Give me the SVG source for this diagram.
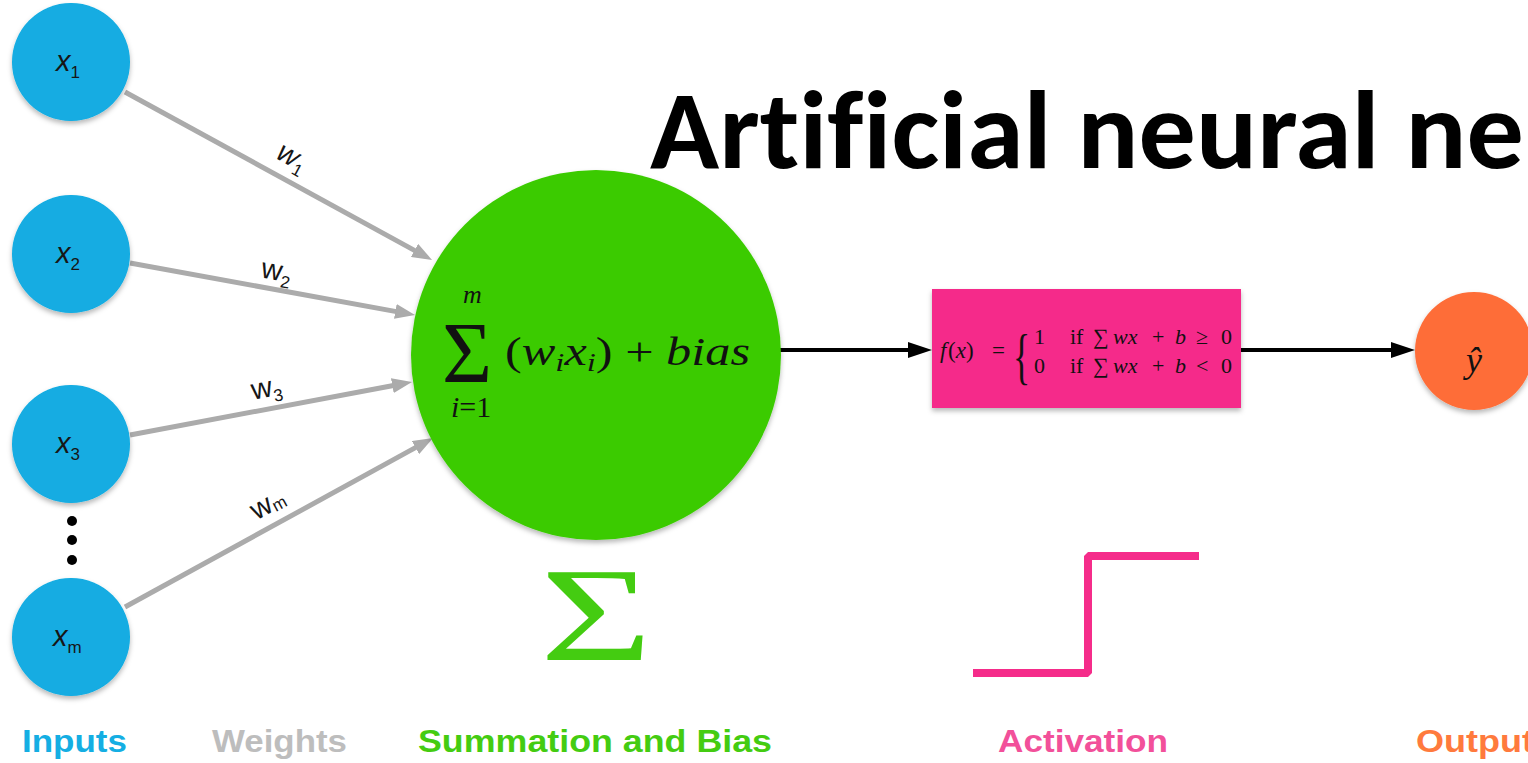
<svg xmlns="http://www.w3.org/2000/svg" width="1528" height="763" viewBox="0 0 1528 763">
<defs>
<style>
.in{fill:#12ACE2}
.xl{font-family:"Liberation Sans",Arial,sans-serif;fill:#161616;font-style:italic;font-size:29px}
.sub{font-style:normal;font-size:17px}
.wt{font-family:"Liberation Sans",Arial,sans-serif;fill:#161616;font-size:29px}
.math{font-family:"Liberation Serif","Times New Roman",serif;fill:#111}
.it{font-style:italic}
.wl{stroke:#ABABAB;stroke-width:5;fill:none}
.bl{stroke:#000;stroke-width:4;fill:none}
.cap{font-family:"Liberation Sans",Arial,sans-serif;font-weight:bold;font-size:31px}
</style>
<marker id="ag" markerWidth="4" markerHeight="3" refX="0.5" refY="1.5" orient="auto" markerUnits="strokeWidth"><path d="M0,0 L4,1.5 L0,3 z" fill="#ABABAB"/></marker>
<marker id="ab" markerWidth="6" markerHeight="4" refX="0.5" refY="2" orient="auto" markerUnits="strokeWidth"><path d="M0,0 L6,2 L0,4 z" fill="#000"/></marker>
<filter id="sh" x="-20%" y="-20%" width="140%" height="150%"><feDropShadow dx="0" dy="3" stdDeviation="2.5" flood-color="#000" flood-opacity="0.28"/></filter>
</defs>
<rect width="1528" height="763" fill="#fff"/>

<text id="title" x="650" y="168" font-family="Carlito,Lato,'Liberation Sans',Arial,sans-serif" font-weight="bold" font-size="112" fill="#000" style="font-variant-ligatures:none" textLength="874" lengthAdjust="spacingAndGlyphs">Artificial neural ne</text>

<g id="connectors">
<line class="wl" x1="125" y1="92" x2="416.7" y2="251.6" marker-end="url(#ag)"/>
<line class="wl" x1="130" y1="263" x2="397.8" y2="311.9" marker-end="url(#ag)"/>
<line class="wl" x1="130" y1="435" x2="394.8" y2="385.2" marker-end="url(#ag)"/>
<line class="wl" x1="125" y1="607" x2="417.7" y2="446.4" marker-end="url(#ag)"/>
<line class="bl" x1="780" y1="350" x2="910" y2="350" marker-end="url(#ab)"/>
<line class="bl" x1="1241" y1="350" x2="1393" y2="350" marker-end="url(#ab)"/>
<text class="wt it" transform="translate(288,165) rotate(28.7)" text-anchor="middle">w<tspan class="sub" dy="6">1</tspan></text>
<text class="wt" transform="translate(275,280) rotate(10.3)" text-anchor="middle">w<tspan class="sub" dy="6">2</tspan></text>
<text class="wt" transform="translate(268,397) rotate(-10.6)" text-anchor="middle">w<tspan class="sub" dy="6">3</tspan></text>
<text class="wt" transform="translate(272,512) rotate(-28.8)" text-anchor="middle">w<tspan class="sub" dy="2">m</tspan></text>
</g>

<g id="x1"><circle class="in" cx="71" cy="62" r="59" filter="url(#sh)"/><text class="xl" x="56" y="71">x<tspan class="sub" dy="7">1</tspan></text></g>
<g id="x2"><circle class="in" cx="71" cy="254" r="59" filter="url(#sh)"/><text class="xl" x="56" y="263">x<tspan class="sub" dy="7">2</tspan></text></g>
<g id="x3"><circle class="in" cx="71" cy="444" r="59" filter="url(#sh)"/><text class="xl" x="56" y="453">x<tspan class="sub" dy="7">3</tspan></text></g>
<g id="dots"><circle cx="72" cy="521" r="5" fill="#000"/><circle cx="72" cy="540" r="5" fill="#000"/><circle cx="72" cy="560" r="5" fill="#000"/></g>
<g id="xm"><circle class="in" cx="71" cy="637" r="59" filter="url(#sh)"/><text class="xl" x="53" y="646">x<tspan class="sub" dy="7">m</tspan></text></g>

<g id="sum">
<circle cx="596" cy="355" r="185" fill="#3BCB06" filter="url(#sh)"/>
<text class="math"><tspan x="442" y="382" font-size="86">Σ</tspan><tspan class="it" x="463" y="303" font-size="26">m</tspan><tspan class="it" x="451" y="417" font-size="30">i</tspan><tspan font-size="30">=1</tspan></text>
<text class="math" x="505" y="365" font-size="40" textLength="245" lengthAdjust="spacingAndGlyphs">(<tspan class="it">w</tspan><tspan class="it" font-size="26" dy="6">i</tspan><tspan class="it" dy="-6">x</tspan><tspan class="it" font-size="26" dy="6">i</tspan><tspan dy="-6">) + </tspan><tspan class="it">bias</tspan></text>
</g>

<g id="activation">
<rect x="932" y="289" width="309" height="119" fill="#F52C8A" filter="url(#sh)"/>
<text class="math" font-size="23"><tspan class="it" x="940" y="358">f</tspan><tspan x="948">(</tspan><tspan class="it">x</tspan><tspan>)</tspan><tspan x="992">=</tspan></text>
<text class="math" font-size="50" transform="translate(1013,377) scale(0.72,1.22)">{</text>
<text class="math" font-size="22"><tspan x="1034" y="344">1</tspan><tspan x="1070">if</tspan><tspan x="1093">∑</tspan><tspan class="it" x="1113">wx</tspan><tspan x="1152">+</tspan><tspan class="it" x="1175">b</tspan><tspan x="1196">≥</tspan><tspan x="1221">0</tspan></text>
<text class="math" font-size="22"><tspan x="1034" y="373">0</tspan><tspan x="1070">if</tspan><tspan x="1093">∑</tspan><tspan class="it" x="1113">wx</tspan><tspan x="1152">+</tspan><tspan class="it" x="1175">b</tspan><tspan x="1196">&lt;</tspan><tspan x="1221">0</tspan></text>
</g>

<g id="output">
<circle cx="1474" cy="351" r="59" fill="#FE6D37" filter="url(#sh)"/>
<text class="math it" x="1474" y="372" font-size="36" text-anchor="middle">ŷ</text>
</g>

<g id="icons">
<text class="math" font-size="133" transform="translate(540,660) scale(1.45,1)" style="fill:#44CC11">Σ</text>
<polyline points="973,673 1088,673 1088,556 1199,556" fill="none" stroke="#F52C8A" stroke-width="8" stroke-linejoin="bevel"/>
</g>

<g id="captions">
<text class="cap" x="22" y="752" fill="#14AEE3" textLength="105" lengthAdjust="spacingAndGlyphs">Inputs</text>
<text class="cap" x="212" y="752" fill="#BDBDBD" textLength="135" lengthAdjust="spacingAndGlyphs">Weights</text>
<text class="cap" x="418" y="752" fill="#44CC11" textLength="354" lengthAdjust="spacingAndGlyphs">Summation and Bias</text>
<text class="cap" x="998" y="752" fill="#F2509A" textLength="170" lengthAdjust="spacingAndGlyphs">Activation</text>
<text class="cap" x="1416" y="752" fill="#FF7A3D" textLength="118" lengthAdjust="spacingAndGlyphs">Output</text>
</g>
</svg>
